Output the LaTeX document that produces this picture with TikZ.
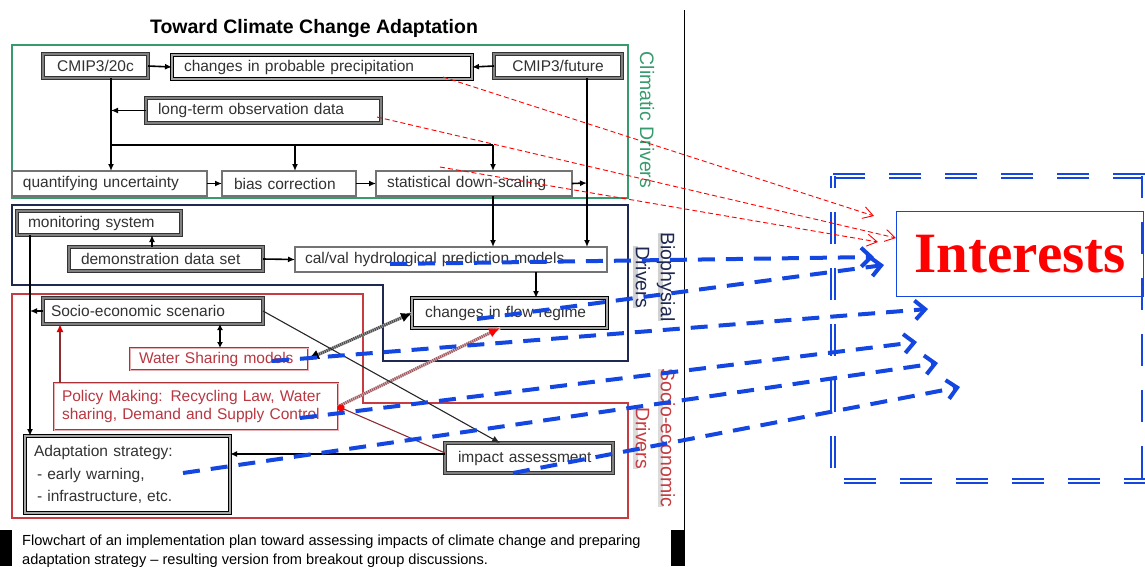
\documentclass[tikz,border=0pt]{standalone}
\usepackage{fontspec}
\setmainfont{Liberation Sans}
\newfontfamily\interestsfont{Liberation Serif}
\usetikzlibrary{arrows.meta,calc}

\definecolor{clgreen}{RGB}{55,155,110}
\definecolor{bionavy}{RGB}{30,40,80}
\definecolor{socred}{RGB}{200,60,65}
\definecolor{txtred}{RGB}{185,55,65}
\definecolor{boxtext}{RGB}{50,50,50}
\definecolor{hiblue}{RGB}{20,70,225}
\definecolor{brownline}{RGB}{140,45,50}
\definecolor{ropebrown}{RGB}{160,90,95}

% box placed by its corners: name, style, side padding, x1, y1, x2, y2, text
\newcommand\flowbox[8]{%
  \pgfmathsetmacro\fbw{#6-#4}%
  \pgfmathsetmacro\fbh{#7-#5}%
  \pgfmathsetmacro\fbt{#6-#4-2*#3}%
  \node[#2, anchor=north west, outer sep=0pt, inner ysep=0pt, inner xsep=#3pt,
        minimum width=\fbw pt, minimum height=\fbh pt, text width=\fbt pt]
        (#1) at (#4,#5) {#8};}

% word with a shaded band along its baseline
\newcommand\hiword[2]{\setbox0=\hbox{#2}\rlap{\textcolor{#1}{\rule[-3pt]{\wd0}{5pt}}}\box0}

\tikzset{
  flow/.style={fill=white, text=boxtext, font=\fontsize{15.5}{18}\selectfont, align=left},
  dbox/.style={flow, draw=black!80, line width=1pt, double=black!50, double distance=1.4pt},
  dbk/.style={flow, draw=black, line width=1.2pt, double=black!35, double distance=1.2pt},
  sbox/.style={flow, draw=black!55, line width=1.1pt},
  rbox/.style={flow, draw=socred!85!black, line width=1pt, double=socred!40, double distance=0.9pt, text=txtred},
  region/.style={line width=1.5pt},
  link/.style={draw=black, line width=1.6pt, -{Latex[length=7pt,width=6pt]}},
  trunkline/.style={draw=black, line width=1.8pt},
  thinlink/.style={draw=black!85, line width=1.1pt, -{Latex[length=8pt,width=7pt]}},
  twoway/.style={draw=black, line width=1.8pt, {Latex[length=6pt,width=6pt]}-{Latex[length=6pt,width=6pt]}},
  redlink/.style={draw=brownline, line width=1.8pt, -{Latex[length=8pt,width=7pt,color=red!85!black]}},
  greylink/.style={draw=black!70, line width=3pt, dash pattern=on 1.2pt off 0.9pt,
     preaction={draw=black!30, line width=3pt, arrows=-},
     {Latex[length=11pt,width=10pt,color=black]}-{Latex[length=11pt,width=10pt,color=black]}},
  brownlink/.style={draw=ropebrown, line width=3pt, dash pattern=on 1.2pt off 0.9pt,
     preaction={draw=ropebrown!35, line width=3pt, arrows=-},
     -{Latex[length=11pt,width=10pt,color=red]}},
  thinbrown/.style={draw=brownline, line width=1.1pt, -{Circle[length=7pt,color=red]}},
  sidelabel/.style={rotate=-90, align=center, font=\fontsize{19.5}{25}\selectfont},
  blueflow/.style={draw=hiblue, line width=4pt, dash pattern=on 17pt off 11pt,
     -{Straight Barb[length=10pt,width=19pt]}},
  redflow/.style={draw=red, line width=0.9pt, dash pattern=on 5pt off 3pt,
     -{Straight Barb[length=10pt,width=12pt]}},
  bigdash/.style={draw=hiblue, line width=2.3pt, double=white, double distance=1.3pt,
     dash pattern=on 32pt off 24pt},
}

\begin{document}
\begin{tikzpicture}[x=1pt,y=-1pt]
\useasboundingbox (0,0) rectangle (1145,566);
\clip (0,0) rectangle (1145,566);

% ---------- title and driver regions ----------
\node[anchor=base, font=\bfseries\fontsize{19.5}{22}\selectfont] (title) at (314,33) {Toward Climate Change Adaptation};

\draw[region, draw=clgreen] (12,45) rectangle (628,198);
\draw[region, draw=bionavy] (12,205) -- (628,205) -- (628,361) -- (383,361) -- (383,285) -- (12,285) -- cycle;
\draw[region, draw=socred] (12,294) -- (363,294) -- (363,403) -- (628,403) -- (628,518) -- (12,518) -- cycle;

\node[sidelabel, text=clgreen] (lclim) at (647,120) {Climatic Drivers};
\node[sidelabel, text=bionavy] (lbio) at (654,277) {\hiword{black!18}{Biophysial}\\\hiword{black!18}{Drivers}};
\node[sidelabel, text=socred] (lsoc) at (654,438) {\hiword{black!14}{Socio-economic}\\\hiword{black!14}{Drivers}};

% ---------- climatic boxes ----------
\flowbox{c20}{dbox, align=center}{8}{43}{54}{148}{78}{CMIP3/20c}
\flowbox{cpp}{dbk}{12}{172}{55}{472}{79}{changes in probable precipitation}
\flowbox{cfu}{dbox, align=center}{8}{494}{54}{622}{78}{CMIP3/future}
\flowbox{lt}{dbox}{12}{146}{98}{381}{123}{long-term observation data}
\flowbox{qu}{sbox}{11}{12}{171}{207}{196}{quantifying uncertainty}
\flowbox{bc}{sbox}{12}{222}{171}{356}{196}{bias correction}
\flowbox{sd}{sbox}{11}{376}{171}{572}{196}{statistical down-scaling}

% ---------- biophysical boxes ----------
\flowbox{ms}{dbox}{11}{17}{211}{181}{235}{monitoring system}
\flowbox{dd}{dbox}{12}{69}{247}{263}{271}{demonstration data set}
\flowbox{cv}{sbox}{10}{295}{247}{607}{272}{cal/val hydrological prediction models}
\flowbox{fr}{dbk}{13}{412}{298}{607}{328}{changes in flow regime}

% ---------- socio-economic boxes ----------
\flowbox{se}{dbox}{8}{43}{298}{263}{324}{Socio-economic scenario}
\flowbox{ws}{rbox}{9}{130}{348}{308}{370}{Water Sharing models}
\flowbox{pm}{rbox}{8}{54}{383}{338}{430}{Policy Making: Recycling Law, Water\\sharing, Demand and Supply Control}
\flowbox{ad}{dbk, line width=1.4pt, font=\fontsize{15.5}{22.5}\selectfont}{9}{25}{436}{230}{513}{Adaptation strategy:\\\hspace*{3pt}- early warning,\\\hspace*{3pt}- infrastructure, etc.}
\flowbox{ia}{dbox}{13}{445}{443}{613}{473}{impact assessment}

% ---------- junction points ----------
\coordinate (vA) at (111,114);
\coordinate (hA) at (111,145);
\coordinate (hB) at (295,145);
\coordinate (hC) at (493,145);
\coordinate (vB) at (587,183);
\coordinate (vM) at (30,311);
\coordinate (kD) at (152,247);
\coordinate (kF) at (536,272);
\coordinate (kS) at (220,324);
\coordinate (kP) at (60,383);
\coordinate (kT) at (500,331);
\coordinate (kI) at (500,443);

% ---------- connectors ----------
\draw[link] (c20.south -| vA) -- (qu.north -| vA);
\draw[link] (lt.west) -- (lt.west -| vA);
\draw[trunkline] (hA) -- (hC);
\draw[link] (hB) -- (hB |- bc.north);
\draw[link] (hC) -- (hC |- sd.north);
\draw[link] (c20.east) -- (cpp.west);
\draw[link] (cfu.west) -- (cpp.east);
\draw[link] (qu.east) -- (bc.west);
\draw[link] (bc.east) -- (sd.west);
\draw[link] (sd.east) -- (vB);
\draw[link] (cfu.south -| vB) -- (cv.north -| vB);
\draw[link] (sd.south -| hC) -- (cv.north -| hC);

\draw[link] (ms.south -| vM) -- (ad.north -| vM);
\draw[link] (se.west) -- (se.west -| vM);
\draw[link] (dd.north -| kD) -- (ms.south -| kD);
\draw[link] (dd.east) -- (cv.west);
\draw[link] (cv.south -| kF) -- (fr.north -| kF);
\draw[twoway] (se.south -| kS) -- (ws.north -| kS);
\draw[redlink] (pm.north -| kP) -- (se.south -| kP);
\draw[greylink] (ws.east) -- (fr.west);
\draw[brownlink] (pm.east) -- (fr.south -| kT);
\draw[thinbrown] ($(ia.west)+(0,-5)$) -- (pm.east);
\draw[thinlink] (se.east) -- (ia.north -| kI);
\draw[link] ($(ia.west)+(0,-4)$) -- ($(ia.west -| ad.east)+(0,-4)$);

% ---------- caption ----------
\fill[black] (0,530) rectangle (12,566);
\fill[black] (671,530) rectangle (685,566);
\draw[line width=1.4pt] (684.5,10) -- (684.5,566);
\node[anchor=base west, inner sep=0pt, font=\fontsize{14.6}{19}\selectfont] (cap1) at (22,545)
  {Flowchart of an implementation plan toward assessing impacts of climate change and preparing};
\node[anchor=base west, inner sep=0pt, font=\fontsize{14.6}{19}\selectfont] (cap2) at (22,564)
  {adaptation strategy -- resulting version from breakout group discussions.};

% ---------- interests frame ----------
\draw[bigdash] (833,176) -- (1150,176);
\draw[bigdash, dash phase=20pt] (833,176) -- (833,470);
\draw[bigdash] (844,481) -- (1150,481);
\draw[bigdash, dash phase=10pt] (1144,176) -- (1144,481);

\node[draw=hiblue, line width=1.2pt, anchor=north west, inner sep=0pt,
      minimum width=247pt, minimum height=85pt, text=red,
      font=\interestsfont\bfseries\fontsize{57}{60}\selectfont] (int) at (896,211) {Interests};

% ---------- flows toward the interests ----------
\coordinate (rA0) at (443,77);  \coordinate (rA1) at (874,216);
\coordinate (rB0) at (377,117);
\coordinate (rC0) at (440,167); \coordinate (rC1) at (878,242);
\draw[redflow] (rA0) -- (rA1);
\draw[redflow] (rB0) -- ($(int.north west)+(0,27)$);
\draw[redflow] (rC0) -- (rC1);

\coordinate (bA0) at (390,264); \coordinate (bA1) at (874,257);
\coordinate (bB0) at (477,319); \coordinate (bB1) at (884,265);
\coordinate (bC0) at (272,361); \coordinate (bC1) at (928,309);
\coordinate (bD0) at (300,418); \coordinate (bD1) at (917,342);
\coordinate (bE0) at (183,473); \coordinate (bE1) at (938,363);
\coordinate (bF0) at (513,473); \coordinate (bF1) at (960,387);
\draw[blueflow] (bA0) -- (bA1);
\draw[blueflow] (bB0) -- (bB1);
\draw[blueflow] (bC0) -- (bC1);
\draw[blueflow] (bD0) -- (bD1);
\draw[blueflow] (bE0) -- (bE1);
\draw[blueflow] (bF0) -- (bF1);
\end{tikzpicture}
\end{document}
